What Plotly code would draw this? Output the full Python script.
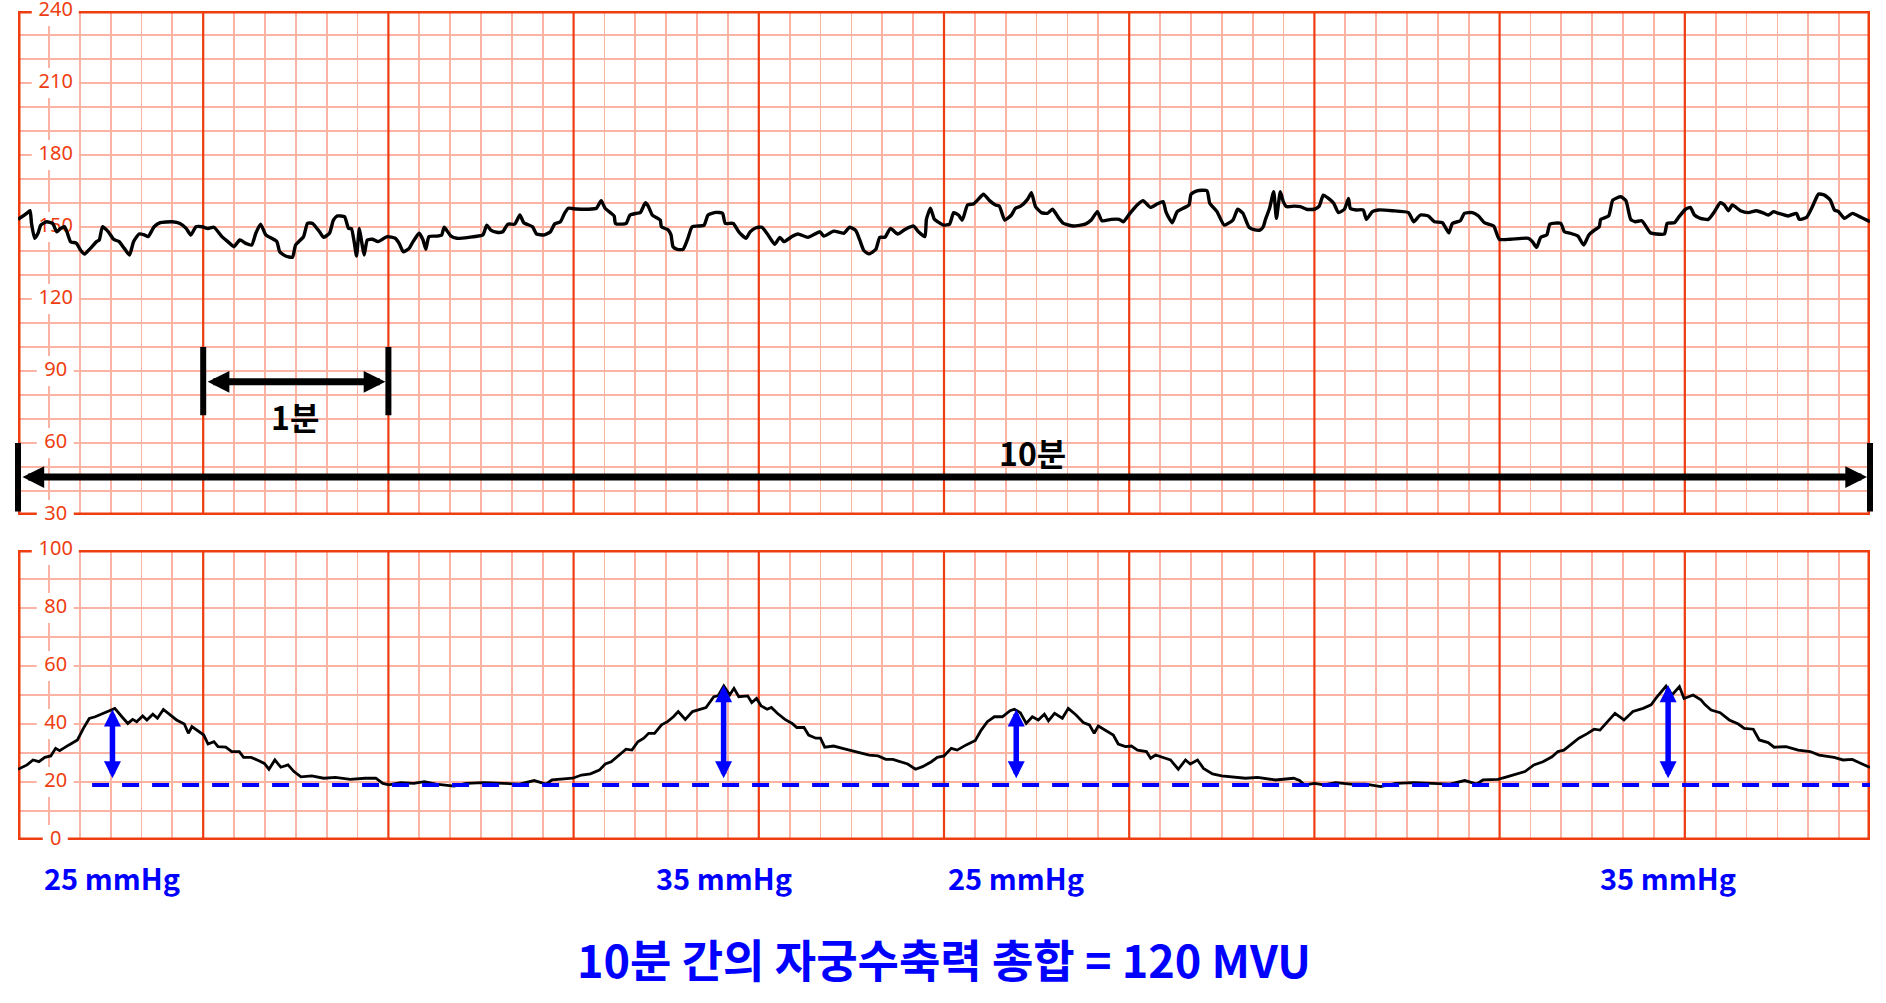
import plotly.graph_objects as go

# ---------------- data ----------------
FHR_T = [0.0, 0.047, 0.065, 0.073, 0.09, 0.108, 0.123, 0.155, 0.187, 0.209, 0.23, 0.252, 0.267, 0.284, 0.316,
         0.337, 0.359, 0.391, 0.424, 0.439, 0.456, 0.488, 0.516, 0.546, 0.574, 0.602, 0.624, 0.654, 0.682, 0.703,
         0.735, 0.768, 0.832, 0.875, 0.908, 0.933, 0.961, 0.994, 1.026, 1.058, 1.101, 1.133, 1.166, 1.198, 1.23,
         1.262, 1.284, 1.31, 1.338, 1.37, 1.398, 1.413, 1.445, 1.482, 1.499, 1.542, 1.563, 1.591, 1.628, 1.65,
         1.682, 1.703, 1.725, 1.763, 1.785, 1.8, 1.815, 1.828, 1.843, 1.854, 1.869, 1.886, 1.914, 1.944, 1.994,
         2.037, 2.058, 2.08, 2.112, 2.133, 2.166, 2.187, 2.202, 2.219, 2.262, 2.288, 2.301, 2.338, 2.37, 2.434,
         2.51, 2.531, 2.553, 2.585, 2.617, 2.645, 2.682, 2.71, 2.731, 2.778, 2.8, 2.843, 2.875, 2.897, 2.929,
         2.951, 2.972, 3.015, 3.08, 3.123, 3.149, 3.17, 3.198, 3.219, 3.226, 3.262, 3.284, 3.305, 3.34, 3.36,
         3.388, 3.403, 3.425, 3.468, 3.474, 3.511, 3.526, 3.537, 3.56, 3.591, 3.614, 3.64, 3.672, 3.705, 3.726,
         3.769, 3.804, 3.819, 3.862, 3.892, 3.931, 3.953, 3.985, 4.017, 4.05, 4.086, 4.114, 4.136, 4.179, 4.211,
         4.265, 4.33, 4.351, 4.405, 4.459, 4.491, 4.524, 4.545, 4.567, 4.595, 4.632, 4.653, 4.681, 4.711, 4.75,
         4.789, 4.836, 4.862, 4.897, 4.905, 4.927, 4.948, 4.966, 4.998, 5.03, 5.052, 5.078, 5.099, 5.127, 5.159,
         5.181, 5.213, 5.246, 5.278, 5.299, 5.328, 5.364, 5.386, 5.414, 5.451, 5.472, 5.494, 5.526, 5.558, 5.586,
         5.617, 5.645, 5.699, 5.763, 5.795, 5.828, 5.853, 5.903, 5.946, 5.968, 6.004, 6.043, 6.075, 6.114, 6.151,
         6.183, 6.198, 6.216, 6.233, 6.259, 6.291, 6.323, 6.334, 6.366, 6.42, 6.435, 6.474, 6.513, 6.56, 6.586,
         6.614, 6.647, 6.679, 6.708, 6.724, 6.736, 6.758, 6.78, 6.795, 6.816, 6.832, 6.849, 6.892, 6.924, 6.957,
         7.0, 7.026, 7.048, 7.076, 7.104, 7.13, 7.162, 7.184, 7.194, 7.227, 7.263, 7.281, 7.313, 7.346, 7.421,
         7.508, 7.536, 7.572, 7.615, 7.648, 7.691, 7.726, 7.745, 7.788, 7.81, 7.853, 7.886, 7.918, 7.968, 7.998,
         8.058, 8.156, 8.177, 8.2, 8.222, 8.255, 8.272, 8.33, 8.35, 8.382, 8.423, 8.454, 8.482, 8.514, 8.538,
         8.546, 8.589, 8.611, 8.654, 8.682, 8.708, 8.733, 8.768, 8.814, 8.847, 8.89, 8.905, 8.944, 8.969, 9.004,
         9.03, 9.052, 9.084, 9.127, 9.16, 9.192, 9.214, 9.235, 9.257, 9.3, 9.343, 9.387, 9.419, 9.451, 9.479,
         9.505, 9.559, 9.603, 9.618, 9.657, 9.689, 9.722, 9.754, 9.786, 9.808, 9.83, 9.862, 9.905, 9.937, 10.0]
FHR_V = [153.2, 155.7, 156.8, 151.5, 145.3, 147.4, 150.8, 152.2, 151.5, 148.0, 149.4, 150.1, 147.4, 143.9, 143.2,
         140.4, 138.7, 141.1, 143.9, 144.6, 150.1, 148.0, 144.9, 143.9, 141.1, 138.3, 143.9, 147.1, 146.7, 146.0,
         150.1, 151.8, 152.2, 151.5, 149.4, 146.7, 150.1, 150.1, 149.4, 149.9, 146.0, 143.9, 141.8, 144.6, 143.2,
         142.5, 147.4, 151.2, 146.7, 145.3, 143.9, 139.7, 137.9, 137.4, 142.5, 146.0, 151.5, 151.5, 148.0, 145.7,
         147.4, 152.9, 154.6, 154.3, 149.4, 149.4, 143.9, 137.9, 149.4, 144.6, 138.3, 144.6, 144.9, 143.9, 146.0,
         145.3, 143.2, 139.7, 141.1, 143.9, 147.4, 144.6, 140.7, 146.0, 146.2, 146.7, 149.9, 146.2, 145.3, 145.7,
         146.7, 150.8, 148.7, 147.8, 148.0, 151.2, 151.2, 155.0, 151.8, 150.1, 147.1, 146.7, 148.0, 151.2, 152.2,
         155.7, 157.8, 157.5, 157.4, 157.8, 161.0, 157.8, 156.0, 154.6, 151.5, 151.2, 151.5, 155.0, 155.7, 156.0,
         160.1, 158.7, 155.0, 152.9, 150.1, 148.8, 146.7, 141.8, 140.7, 140.7, 144.6, 150.1, 150.4, 150.8, 155.0,
         156.1, 155.7, 151.5, 151.5, 148.0, 145.3, 148.0, 149.7, 149.9, 146.7, 142.8, 145.7, 143.9, 146.0, 147.1,
         145.7, 148.0, 146.2, 148.3, 147.4, 149.9, 148.5, 144.6, 140.2, 138.8, 140.7, 145.7, 145.7, 149.4, 147.1,
         149.0, 150.4, 148.0, 146.0, 153.2, 157.8, 153.2, 152.2, 150.8, 151.2, 156.0, 155.0, 152.9, 159.2, 159.6,
         161.2, 163.7, 161.0, 159.2, 158.7, 152.9, 155.0, 157.8, 158.7, 161.5, 164.3, 158.5, 156.0, 155.7, 157.4,
         154.0, 151.5, 150.4, 151.2, 152.9, 156.4, 152.6, 153.2, 153.2, 152.2, 155.7, 159.2, 161.0, 158.2, 159.6,
         160.6, 156.4, 153.6, 151.8, 156.4, 157.8, 159.2, 163.7, 165.1, 165.1, 159.9, 156.4, 150.8, 152.9, 157.4,
         155.7, 149.9, 148.8, 148.8, 150.1, 153.2, 157.8, 164.7, 153.6, 164.7, 160.6, 158.5, 158.7, 158.5, 157.4,
         157.4, 158.7, 163.3, 161.9, 159.9, 156.0, 157.4, 161.9, 157.8, 157.1, 157.1, 153.2, 156.4, 157.1, 156.8,
         156.0, 152.2, 155.0, 154.6, 152.2, 151.8, 147.6, 151.5, 152.6, 155.7, 156.0, 154.6, 151.8, 150.4, 144.9,
         144.9, 145.3, 143.9, 141.5, 145.7, 146.7, 151.2, 151.5, 148.0, 147.4, 146.2, 142.5, 146.7, 148.8, 150.1,
         153.2, 154.6, 161.2, 162.6, 161.0, 153.2, 152.2, 152.6, 147.6, 147.1, 147.1, 151.5, 151.8, 154.3, 157.4,
         158.2, 155.0, 153.6, 153.2, 156.4, 160.1, 159.2, 156.8, 159.2, 156.8, 156.0, 156.8, 156.0, 155.0, 156.4,
         155.7, 154.6, 155.7, 153.2, 154.0, 158.5, 163.7, 163.3, 161.2, 157.1, 156.4, 153.6, 155.7, 154.6, 152.2]

UC_T = [0.0, 0.049, 0.081, 0.113, 0.145, 0.177, 0.203, 0.225, 0.273, 0.321, 0.353, 0.385, 0.417, 0.465, 0.504,
        0.523, 0.561, 0.593, 0.619, 0.641, 0.673, 0.696, 0.728, 0.753, 0.785, 0.824, 0.856, 0.898, 0.92, 0.939,
        0.971, 1.003, 1.026, 1.058, 1.08, 1.122, 1.154, 1.195, 1.218, 1.259, 1.298, 1.33, 1.355, 1.387, 1.419,
        1.458, 1.49, 1.528, 1.586, 1.65, 1.714, 1.794, 1.874, 1.932, 1.97, 2.002, 2.066, 2.137, 2.194, 2.258,
        2.354, 2.419, 2.515, 2.611, 2.707, 2.787, 2.851, 2.883, 2.947, 2.995, 3.043, 3.091, 3.139, 3.171, 3.203,
        3.245, 3.283, 3.315, 3.347, 3.379, 3.405, 3.437, 3.475, 3.507, 3.539, 3.565, 3.603, 3.642, 3.683, 3.715,
        3.757, 3.78, 3.811, 3.843, 3.866, 3.892, 3.94, 3.962, 3.988, 4.013, 4.045, 4.068, 4.1, 4.141, 4.18,
        4.205, 4.244, 4.269, 4.308, 4.333, 4.356, 4.404, 4.452, 4.5, 4.548, 4.596, 4.644, 4.686, 4.724, 4.772,
        4.804, 4.846, 4.884, 4.932, 4.964, 5.0, 5.039, 5.071, 5.12, 5.169, 5.201, 5.234, 5.272, 5.315, 5.357,
        5.38, 5.412, 5.444, 5.477, 5.509, 5.542, 5.564, 5.597, 5.639, 5.671, 5.713, 5.752, 5.785, 5.811, 5.833,
        5.882, 5.914, 5.941, 5.98, 6.012, 6.045, 6.093, 6.116, 6.142, 6.19, 6.223, 6.265, 6.304, 6.33, 6.369,
        6.401, 6.45, 6.499, 6.563, 6.628, 6.693, 6.79, 6.888, 6.92, 6.946, 7.001, 7.05, 7.115, 7.196, 7.277,
        7.358, 7.439, 7.537, 7.634, 7.731, 7.812, 7.877, 7.91, 7.991, 8.039, 8.088, 8.137, 8.185, 8.234, 8.283,
        8.315, 8.347, 8.38, 8.428, 8.471, 8.51, 8.542, 8.581, 8.623, 8.672, 8.72, 8.775, 8.818, 8.85, 8.899,
        8.931, 8.971, 8.996, 9.045, 9.087, 9.11, 9.142, 9.191, 9.24, 9.289, 9.321, 9.37, 9.402, 9.45, 9.482,
        9.547, 9.612, 9.677, 9.725, 9.806, 9.855, 9.904, 9.952, 10.0]
UC_V = [24.4, 25.9, 27.6, 27.0, 28.5, 29.0, 31.6, 30.8, 32.7, 34.5, 38.5, 41.9, 42.5, 43.9, 44.8,
        45.4, 42.5, 40.2, 41.6, 40.8, 42.8, 41.4, 43.4, 42.0, 45.0, 43.1, 41.4, 40.0, 36.8, 39.1,
        37.7, 36.2, 33.1, 33.9, 32.2, 32.0, 30.5, 30.5, 28.5, 28.5, 27.4, 26.4, 24.4, 27.6, 25.1,
        25.9, 23.6, 21.8, 22.1, 21.3, 21.6, 20.9, 21.3, 21.3, 19.5, 19.0, 19.8, 19.5, 20.1, 19.3,
        18.6, 19.5, 19.8, 19.5, 19.3, 20.5, 19.3, 20.7, 20.9, 21.3, 22.4, 22.8, 24.1, 26.2, 27.0,
        29.3, 31.3, 31.0, 33.9, 35.1, 36.8, 36.8, 39.7, 40.8, 42.5, 44.3, 41.6, 44.3, 45.1, 45.7,
        49.4, 49.7, 53.1, 50.0, 52.3, 49.4, 49.7, 47.4, 48.8, 46.2, 45.1, 45.7, 43.7, 41.6, 40.2,
        38.8, 38.8, 36.2, 35.1, 35.1, 32.0, 32.4, 31.6, 30.8, 29.9, 29.3, 29.0, 27.8, 27.8, 26.7,
        26.2, 24.4, 25.3, 27.0, 28.5, 29.0, 31.6, 31.0, 32.8, 34.3, 37.9, 40.8, 42.5, 42.5, 44.6,
        45.1, 43.9, 40.2, 42.5, 41.4, 43.4, 41.1, 43.7, 42.0, 45.4, 43.1, 40.5, 39.7, 36.8, 39.3,
        37.4, 36.2, 33.1, 32.2, 32.4, 31.0, 30.5, 28.2, 29.3, 28.2, 27.6, 24.4, 27.6, 26.2, 27.6,
        24.7, 22.8, 22.1, 21.6, 21.3, 21.6, 20.7, 21.3, 20.5, 19.0, 19.5, 19.0, 19.8, 19.3, 19.3,
        18.4, 19.5, 19.8, 19.5, 19.3, 20.5, 19.3, 20.7, 20.9, 21.8, 22.8, 23.6, 25.9, 27.0, 28.7,
        30.5, 31.0, 32.7, 35.1, 36.6, 38.2, 37.9, 40.8, 43.7, 41.4, 44.3, 45.4, 46.6, 49.4, 53.1,
        50.0, 52.9, 48.8, 50.0, 48.3, 46.6, 44.8, 43.9, 41.4, 40.0, 38.5, 38.2, 34.5, 33.6, 32.0,
        32.2, 31.0, 30.5, 29.3, 28.5, 27.6, 27.8, 26.4, 25.0]

FHR_RANGE = [30, 240]
UC_RANGE = [0, 100]
FHR_TICKS = [30, 60, 90, 120, 150, 180, 210, 240]
UC_TICKS = [0, 20, 40, 60, 80, 100]

CONTRACTION_T = [0.51, 3.81, 5.39, 8.91]
CONTRACTION_PEAK = [45.0, 53.4, 45.0, 53.4]
CONTRACTION_LABELS = ["25 mmHg", "35 mmHg", "25 mmHg", "35 mmHg"]
BASELINE = 19.0
BASELINE_START = 0.4
MINUTES = 10
ONE_MIN = [1, 2]
ONE_MIN_LABEL = "1분"
TEN_MIN_LABEL = "10분"
TITLE = "10분 간의 자궁수축력 총합 = 120 MVU"

# ---------------- styles ----------------
MAJOR = "#EE3D10"
MINOR = "#FBB3A3"
BLUE = "#0000FF"
KFONT = "Noto Sans CJK KR"
LABEL_X = 0.204  # position of in-plot tick labels (minutes)

fig = go.Figure()

shapes = []
# major minute lines and panel borders (drawn above the light grid, below the traces)
for ax_x, ax_y, rng in (("x", "y", FHR_RANGE), ("x2", "y2", UC_RANGE)):
    for m in range(1, MINUTES):
        shapes.append(dict(type="line", xref=ax_x, yref=ax_y, x0=m, x1=m, y0=rng[0], y1=rng[1],
                           line=dict(color=MAJOR, width=2.2), layer="between"))
    shapes.append(dict(type="rect", xref=ax_x, yref=ax_y, x0=0, x1=MINUTES, y0=rng[0], y1=rng[1],
                       line=dict(color=MAJOR, width=5), fillcolor="rgba(0,0,0,0)", layer="between"))

# white boxes behind the in-plot tick labels
def add_boxes(ticks, ax_x, ax_y):
    for v in ticks:
        n = len(str(v))
        half = 24 if n == 3 else (19 if n == 2 else 13)
        shapes.append(dict(type="rect", xref=ax_x, yref=ax_y, xsizemode="pixel", ysizemode="pixel",
                           xanchor=LABEL_X, yanchor=v, x0=-half, x1=half - 1, y0=-15, y1=15,
                           fillcolor="white", line=dict(width=0), layer="between"))

add_boxes(FHR_TICKS, "x", "y")
add_boxes(UC_TICKS, "x2", "y2")

# tick label texts
for ticks, ax_x, ax_y in ((FHR_TICKS, "x", "y"), (UC_TICKS, "x2", "y2")):
    fig.add_trace(go.Scatter(x=[LABEL_X] * len(ticks), y=ticks, text=[str(v) for v in ticks],
                             mode="text", textfont=dict(family="Noto Sans", size=20, color=MAJOR),
                             cliponaxis=False, hoverinfo="skip", showlegend=False, xaxis=ax_x, yaxis=ax_y))

# traces
fig.add_trace(go.Scatter(x=FHR_T, y=FHR_V, mode="lines",
                         line=dict(color="black", width=3.4, shape="spline", smoothing=0.5),
                         hoverinfo="skip", showlegend=False, xaxis="x", yaxis="y"))
fig.add_trace(go.Scatter(x=UC_T, y=UC_V, mode="lines", line=dict(color="black", width=2.8),
                         hoverinfo="skip", showlegend=False, xaxis="x2", yaxis="y2"))
fig.add_trace(go.Scatter(x=[BASELINE_START, MINUTES], y=[BASELINE, BASELINE], mode="lines",
                         line=dict(color=BLUE, width=4, dash="17px,13px"),
                         hoverinfo="skip", showlegend=False, xaxis="x2", yaxis="y2"))

annotations = []

def bar(x, y0, y1, xr="x", yr="y", color="black", width=6):
    annotations.append(dict(x=x, y=y1, ax=x, ay=y0, xref=xr, yref=yr, axref=xr, ayref=yr, text="",
                            showarrow=True, arrowhead=0, arrowwidth=width, arrowcolor=color))

def double_arrow(x0, y0, x1, y1, xr, yr, color, width, size, standoff=0):
    annotations.append(dict(x=x1, y=y1, ax=x0, ay=y0, xref=xr, yref=yr, axref=xr, ayref=yr, text="",
                            showarrow=True, arrowhead=2, startarrowhead=2, arrowside="end+start",
                            arrowwidth=width, arrowsize=size, startarrowsize=size, arrowcolor=color,
                            standoff=standoff, startstandoff=standoff))

# 1-minute marker
for m in ONE_MIN:
    bar(m, 71, 100)
double_arrow(ONE_MIN[0], 85.5, ONE_MIN[1], 85.5, "x", "y", "black", 7, 0.62, standoff=3)
annotations.append(dict(x=1.494, y=71.3, xref="x", yref="y", text=f"<b>{ONE_MIN_LABEL}</b>", showarrow=False,
                        font=dict(family=KFONT, size=32, color="black")))

# 10-minute marker
for m in (0, MINUTES):
    bar(m, 30.8, 60)
double_arrow(0, 45.8, MINUTES, 45.8, "x", "y", "black", 7, 0.62, standoff=3)
annotations.append(dict(x=5.48, y=56.3, xref="x", yref="y", text=f"<b>{TEN_MIN_LABEL}</b>", showarrow=False,
                        font=dict(family=KFONT, size=32, color="black")))

# contraction amplitude arrows + labels
for t, pk, lab in zip(CONTRACTION_T, CONTRACTION_PEAK, CONTRACTION_LABELS):
    double_arrow(t, 20.8, t, pk, "x2", "y2", BLUE, 5.5, 0.62)
    annotations.append(dict(x=t, y=-0.045, xref="x2", yref="paper", text=f"<b>{lab}</b>", showarrow=False,
                            yanchor="middle", font=dict(family=KFONT, size=29, color=BLUE)))

annotations.append(dict(x=0.5, y=-0.143, xref="paper", yref="paper", text=f"<b>{TITLE}</b>", showarrow=False,
                        yanchor="middle", font=dict(family=KFONT, size=45, color=BLUE)))

xcommon = dict(range=[0, MINUTES], showticklabels=False, ticks="", zeroline=False, showline=False,
               showgrid=False, fixedrange=True,
               minor=dict(dtick=1 / 6, tick0=0, showgrid=True, gridcolor=MINOR, gridwidth=1.8, ticks=""))
ycommon = dict(showticklabels=False, ticks="", zeroline=False, showline=False, showgrid=True,
               gridcolor=MINOR, gridwidth=1.8, dtick=10, tick0=0, fixedrange=True)

fig.update_layout(
    width=1886, height=1003,
    margin=dict(l=18, r=16, t=11, b=163),
    paper_bgcolor="white", plot_bgcolor="white",
    xaxis=dict(domain=[0, 1], anchor="y", **xcommon),
    yaxis=dict(domain=[0.392, 1], range=FHR_RANGE, anchor="x", **ycommon),
    xaxis2=dict(domain=[0, 1], anchor="y2", **xcommon),
    yaxis2=dict(domain=[0, 0.3498], range=UC_RANGE, anchor="x2", **ycommon),
    shapes=shapes,
    annotations=annotations,
    showlegend=False,
)

fig.write_html("out.html", config={"displayModeBar": False, "staticPlot": True},
               post_script="document.body.style.margin='0';document.body.style.overflow='hidden';")
